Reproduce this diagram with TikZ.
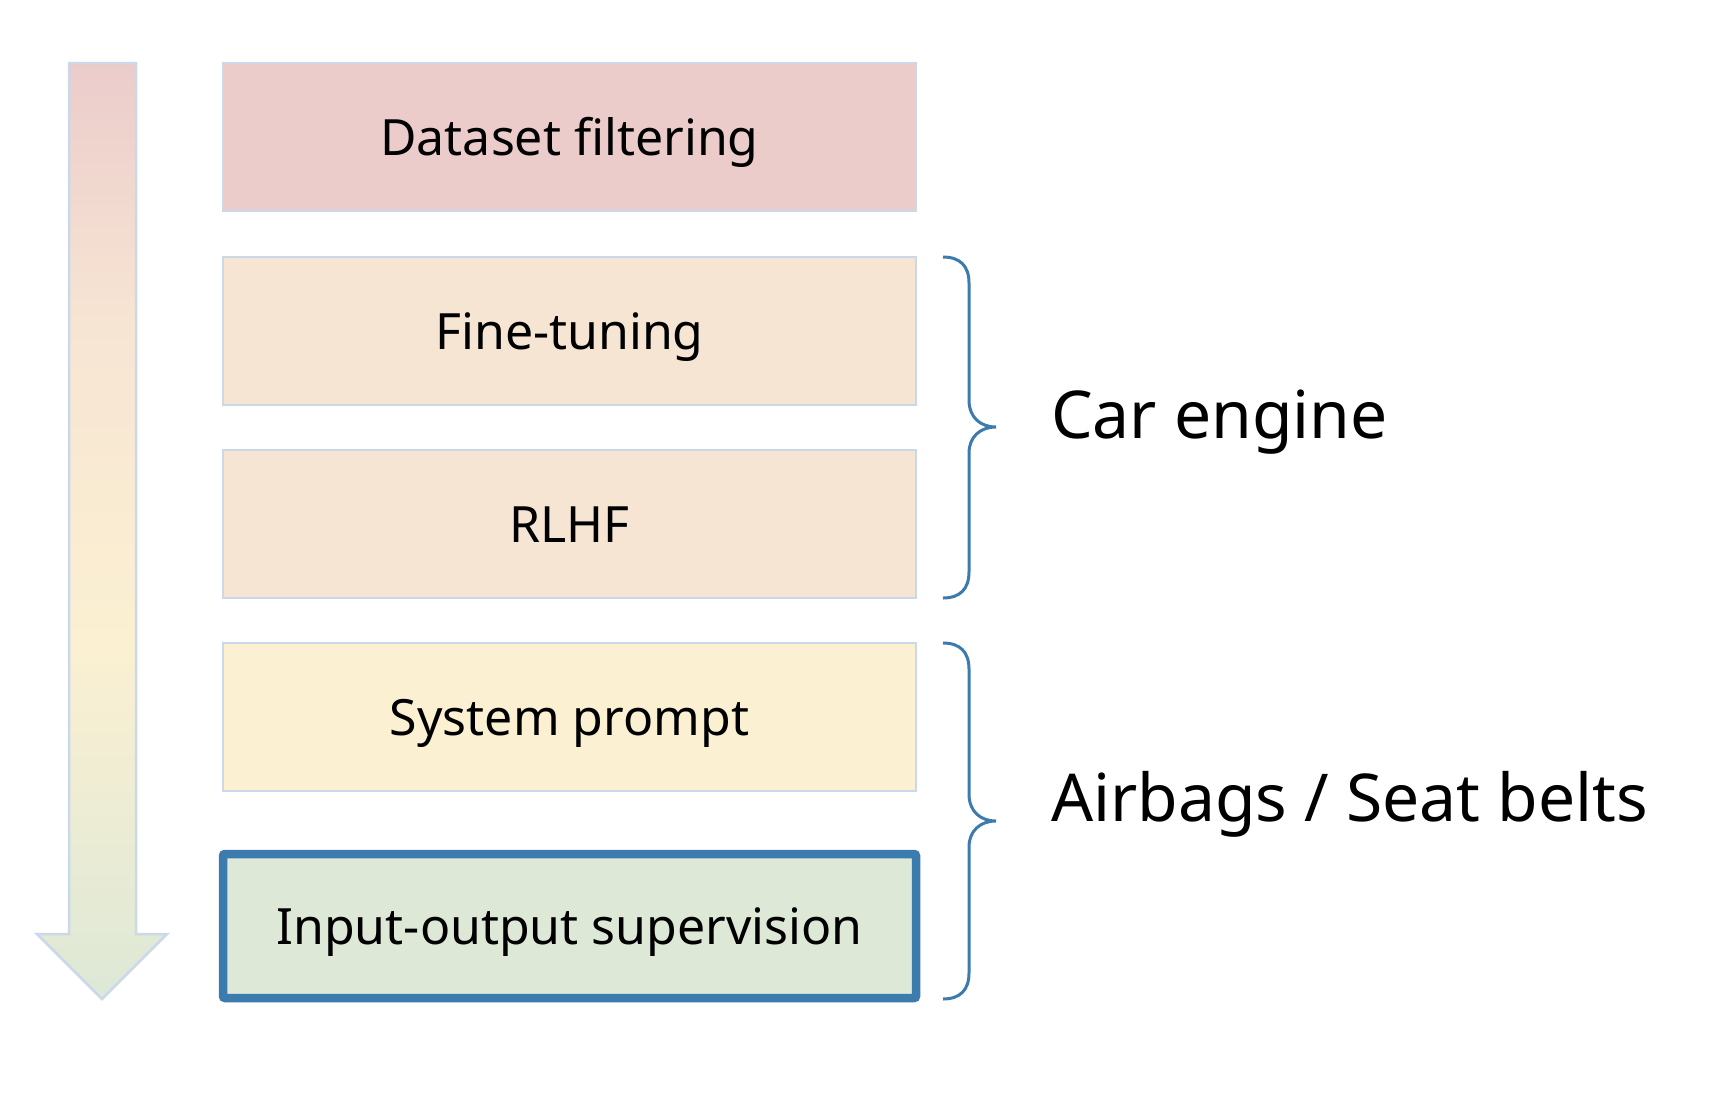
\documentclass[tikz,border=0pt]{standalone}
\usepackage{fontspec}
\setmainfont{Noto Sans}
\definecolor{redf}{HTML}{EBCCCB}
\definecolor{orgf}{HTML}{F7E5D3}
\definecolor{yelf}{HTML}{FBF0D2}
\definecolor{grnf}{HTML}{DDE8D6}
\definecolor{bord}{HTML}{CAD8E9}
\definecolor{blu}{HTML}{3C7BAD}
\pgfdeclareverticalshading{arrowshade}{100bp}{
  color(0bp)=(grnf); color(25bp)=(grnf); color(44bp)=(yelf);
  color(61bp)=(orgf); color(75bp)=(redf); color(100bp)=(redf)}
\begin{document}
\begin{tikzpicture}[x=1pt,y=-1pt,
  layer/.style={draw=bord,line width=2.5pt,minimum width=693pt,minimum height=148pt,inner sep=0pt,
     font=\fontsize{50}{60}\selectfont,text height=36pt,text depth=0pt},
  brace/.style={draw=blu,line width=3pt},
  side/.style={anchor=base west,font=\fontsize{66}{78}\selectfont,inner sep=0pt}]
\useasboundingbox (0,0) rectangle (1716,1098);
% arrow
\path[draw=bord,line width=2.5pt,shading=arrowshade]
  (69,63) -- (136,63) -- (136,934) -- (167,934) -- (102,999) -- (37,934) -- (69,934) -- cycle;
\node[layer,fill=redf] (df) at (569.5,137) {Dataset filtering};
\node[layer,fill=orgf] (ft) at (569.5,331) {Fine-tuning};
\node[layer,fill=orgf] (rl) at (569.5,524) {RLHF};
\node[layer,fill=yelf] (sp) at (569.5,717) {System prompt};
\node[layer,fill=grnf,draw=blu,line width=8.5pt,minimum height=144pt,rounded corners=2pt] (io) at (569.5,926) {Input-output supervision};
% braces
\coordinate (b1t) at (943,257);
\coordinate (b1m) at (996,427);
\coordinate (b1b) at (943,598);
\draw[brace] (b1t) .. controls (960,257) and (969,266) .. (969,283) -- (969,400)
  .. controls (969,417) and (980,427) .. (b1m)
  .. controls (980,427) and (969,437) .. (969,453) -- (969,572)
  .. controls (969,589) and (960,598) .. (b1b);
\coordinate (b2t) at (943,643);
\coordinate (b2m) at (996,821);
\coordinate (b2b) at (943,999);
\draw[brace] (b2t) .. controls (960,643) and (969,652) .. (969,669) -- (969,794)
  .. controls (969,811) and (980,821) .. (b2m)
  .. controls (980,821) and (969,831) .. (969,847) -- (969,973)
  .. controls (969,990) and (960,999) .. (b2b);
\node[side] (ce) at (1051,438) {Car engine};
\node[side] (ab) at (1051,821) {Airbags / Seat belts};
\end{tikzpicture}
\end{document}
